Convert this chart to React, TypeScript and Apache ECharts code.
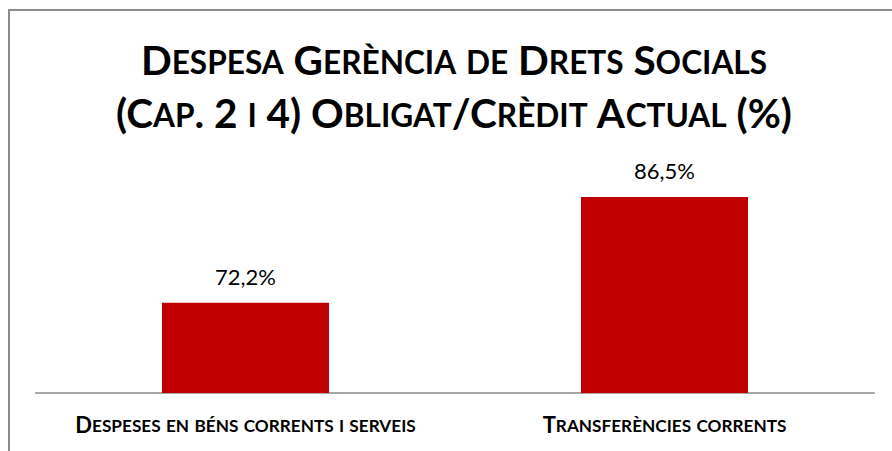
import React, { useEffect, useRef } from "react";
import * as echarts from "echarts";

const categories = ["Despeses en béns corrents i serveis", "Transferències corrents"];
const values = [72.2, 86.5];
const titleLines = ["Despesa Gerència de Drets Socials", "(Cap. 2 i 4) Obligat/Crèdit Actual (%)"];
const yMin = 60;
const yMax = 90;

function toSmallCapsRich(s: string, big: string, small: string): string {
  let out = "";
  let cur = "";
  let curLower: boolean | null = null;
  const flush = () => {
    if (cur.length === 0 || curLower === null) return;
    out += `{${curLower ? small : big}|${curLower ? cur.toUpperCase() : cur}}`;
    cur = "";
  };
  for (const ch of s) {
    const lower = ch !== ch.toUpperCase();
    if (curLower !== null && lower !== curLower) flush();
    cur += ch;
    curLower = lower;
  }
  flush();
  return out;
}

const FONT = "Lato";

export default function App() {
  const ref = useRef<HTMLDivElement>(null);
  useEffect(() => {
    if (!ref.current) return;
    const chart = echarts.init(ref.current, null, { renderer: "svg" });
    const tBig = 40.5;
    const tSmall = 31.6;
    const cBig = 22;
    const cSmall = 17.2;
    chart.setOption({
      animation: false,
      backgroundColor: "#ffffff",
      title: {
        text: titleLines.map((l) => toSmallCapsRich(l, "b", "s")).join("\n"),
        left: 454,
        textAlign: "center",
        top: 26,
        padding: 0,
        textStyle: {
          rich: {
            b: {
              fontFamily: FONT,
              fontWeight: "bold",
              fontSize: tBig,
              color: "#000000",
              lineHeight: 53,
              height: 40,
              verticalAlign: "bottom",
            },
            s: {
              fontFamily: FONT,
              fontWeight: "bold",
              fontSize: tSmall,
              color: "#000000",
              lineHeight: 53,
              height: 40 - 0.774 * (tBig - tSmall),
              verticalAlign: "bottom",
            },
          },
        },
      },
      graphic: [
        {
          type: "rect",
          silent: true,
          shape: { x: 9, y: 10, width: 1400, height: 1400 },
          style: { fill: "none", stroke: "#8c8c8c", lineWidth: 2 },
        },
      ],
      grid: { left: 36, right: 18, top: 171, bottom: 58, containLabel: false },
      xAxis: {
        type: "category",
        data: categories,
        axisLine: { show: true, lineStyle: { color: "#a6a6a6", width: 2 } },
        axisTick: { show: false },
        axisLabel: {
          interval: 0,
          margin: 16,
          formatter: (v: string) => toSmallCapsRich(v, "b", "s"),
          rich: {
            b: {
              fontFamily: FONT,
              fontWeight: "bold",
              fontSize: cBig,
              color: "#000000",
              lineHeight: 28,
              height: 26,
              verticalAlign: "bottom",
            },
            s: {
              fontFamily: FONT,
              fontWeight: "bold",
              fontSize: cSmall,
              color: "#000000",
              lineHeight: 28,
              height: 26 - 0.774 * (cBig - cSmall),
              verticalAlign: "bottom",
            },
          },
        },
      },
      yAxis: {
        type: "value",
        min: yMin,
        max: yMax,
        show: false,
        splitLine: { show: false },
      },
      series: [
        {
          type: "bar",
          data: values,
          barWidth: 167,
          itemStyle: { color: "#C00000" },
          label: {
            show: true,
            position: "top",
            distance: 15,
            fontFamily: FONT,
            fontSize: 22,
            color: "#000000",
            formatter: (p: any) => p.value.toFixed(1).replace(".", ",") + "%",
          },
        },
      ],
    });
    return () => chart.dispose();
  }, []);
  return (
    <div
      ref={ref}
      style={{ position: "fixed", left: 0, top: 0, width: 892, height: 451, background: "#fff" }}
    />
  );
}
